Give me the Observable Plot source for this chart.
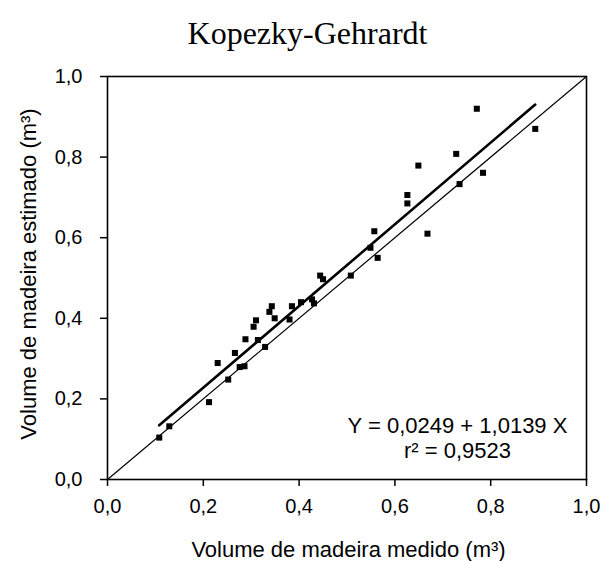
<!DOCTYPE html>
<html><head><meta charset="utf-8">
<script src="https://cdn.jsdelivr.net/npm/d3@7"></script>
<script src="https://cdn.jsdelivr.net/npm/@observablehq/plot@0.6"></script>
<style>
body{margin:0;background:#fff;}
#title{width:601px;height:58px;box-sizing:border-box;padding-left:14px;padding-top:14px;text-align:center;font-family:"Liberation Serif","Times New Roman",serif;font-size:32px;line-height:38px;color:#000;}
</style></head><body>
<div id="title">Kopezky-Gehrardt</div>
<div id="chart"></div>
<script>
// Observed vs estimated volume (m3)
const medido = [0.108,0.129,0.212,0.230,0.252,0.266,0.276,0.286,0.288,0.305,0.310,0.314,0.329,0.338,0.343,0.349,0.380,0.385,0.404,0.427,0.431,0.444,0.450,0.508,0.549,0.564,0.557,0.668,0.626,0.626,0.649,0.735,0.728,0.784,0.771,0.893];
const estimado = [0.104,0.132,0.192,0.289,0.248,0.314,0.279,0.281,0.348,0.379,0.395,0.346,0.329,0.416,0.430,0.400,0.397,0.430,0.440,0.447,0.437,0.506,0.497,0.506,0.575,0.550,0.616,0.610,0.685,0.706,0.779,0.733,0.808,0.761,0.920,0.870];
const coef = [0.0249, 1.0139]; // intercept, slope
const axisDomain = [0, 1];
const tickValues = [0, 0.2, 0.4, 0.6, 0.8, 1.0];
const eqText = "Y = 0,0249 + 1,0139 X";
const r2Text = "r\u00B2 = 0,9523";
const xTitle = "Volume de madeira medido (m\u00B3)";
const yTitle = "Volume de madeira estimado (m\u00B3)";

const fmt = d => d3.format(".1f")(d).replace(".", ",");
const pts = medido.map((x, i) => ({x, y: estimado[i]}));
const fit = d3.extent(medido).map(x => ({x, y: coef[0] + coef[1] * x}));
const sans = '"Liberation Sans", Arial, sans-serif';

const chart = Plot.plot({
  width: 601, height: 503,
  marginTop: 18, marginBottom: 82, marginLeft: 107, marginRight: 15,
  style: {fontFamily: sans, fontSize: "20px", color: "#000", background: "#fff", overflow: "visible"},
  x: {domain: axisDomain},
  y: {domain: axisDomain},
  marks: [
    Plot.axisX({ticks: tickValues, tickFormat: fmt, tickSize: 7, tickPadding: 12, fontSize: 20, label: null, stroke: "#000", strokeWidth: 1.5}),
    Plot.axisY({ticks: tickValues, tickFormat: fmt, tickSize: 7, tickPadding: 18, fontSize: 20, label: null, stroke: "#000", strokeWidth: 1.5}),
    Plot.line(axisDomain, {x: d => d, y: d => d, stroke: "#000", strokeWidth: 1.2}),
    Plot.line(fit, {x: "x", y: "y", stroke: "#000", strokeWidth: 2.6}),
    Plot.dot(pts, {x: "x", y: "y", symbol: "square", r: 3.4, fill: "#000", stroke: "none"}),
    Plot.frame({stroke: "#000", strokeWidth: 1.6}),
    Plot.text([eqText], {frameAnchor: "bottom-right", text: d => d, textAnchor: "middle", lineAnchor: "middle", dx: -129, dy: -54, fontSize: 22, fill: "#000"}),
    Plot.text([r2Text], {frameAnchor: "bottom-right", text: d => d, textAnchor: "middle", lineAnchor: "middle", dx: -129, dy: -29, fontSize: 22, fill: "#000"}),
    Plot.text([xTitle], {frameAnchor: "bottom", text: d => d, textAnchor: "middle", lineAnchor: "middle", dx: 1.5, dy: 70, fontSize: 22, fill: "#000"}),
    Plot.text([yTitle], {frameAnchor: "left", text: d => d, textAnchor: "middle", lineAnchor: "middle", rotate: -90, dx: -79, dy: -4, fontSize: 22, fill: "#000"})
  ]
});
document.getElementById("chart").appendChild(chart);
</script>
</body></html>
